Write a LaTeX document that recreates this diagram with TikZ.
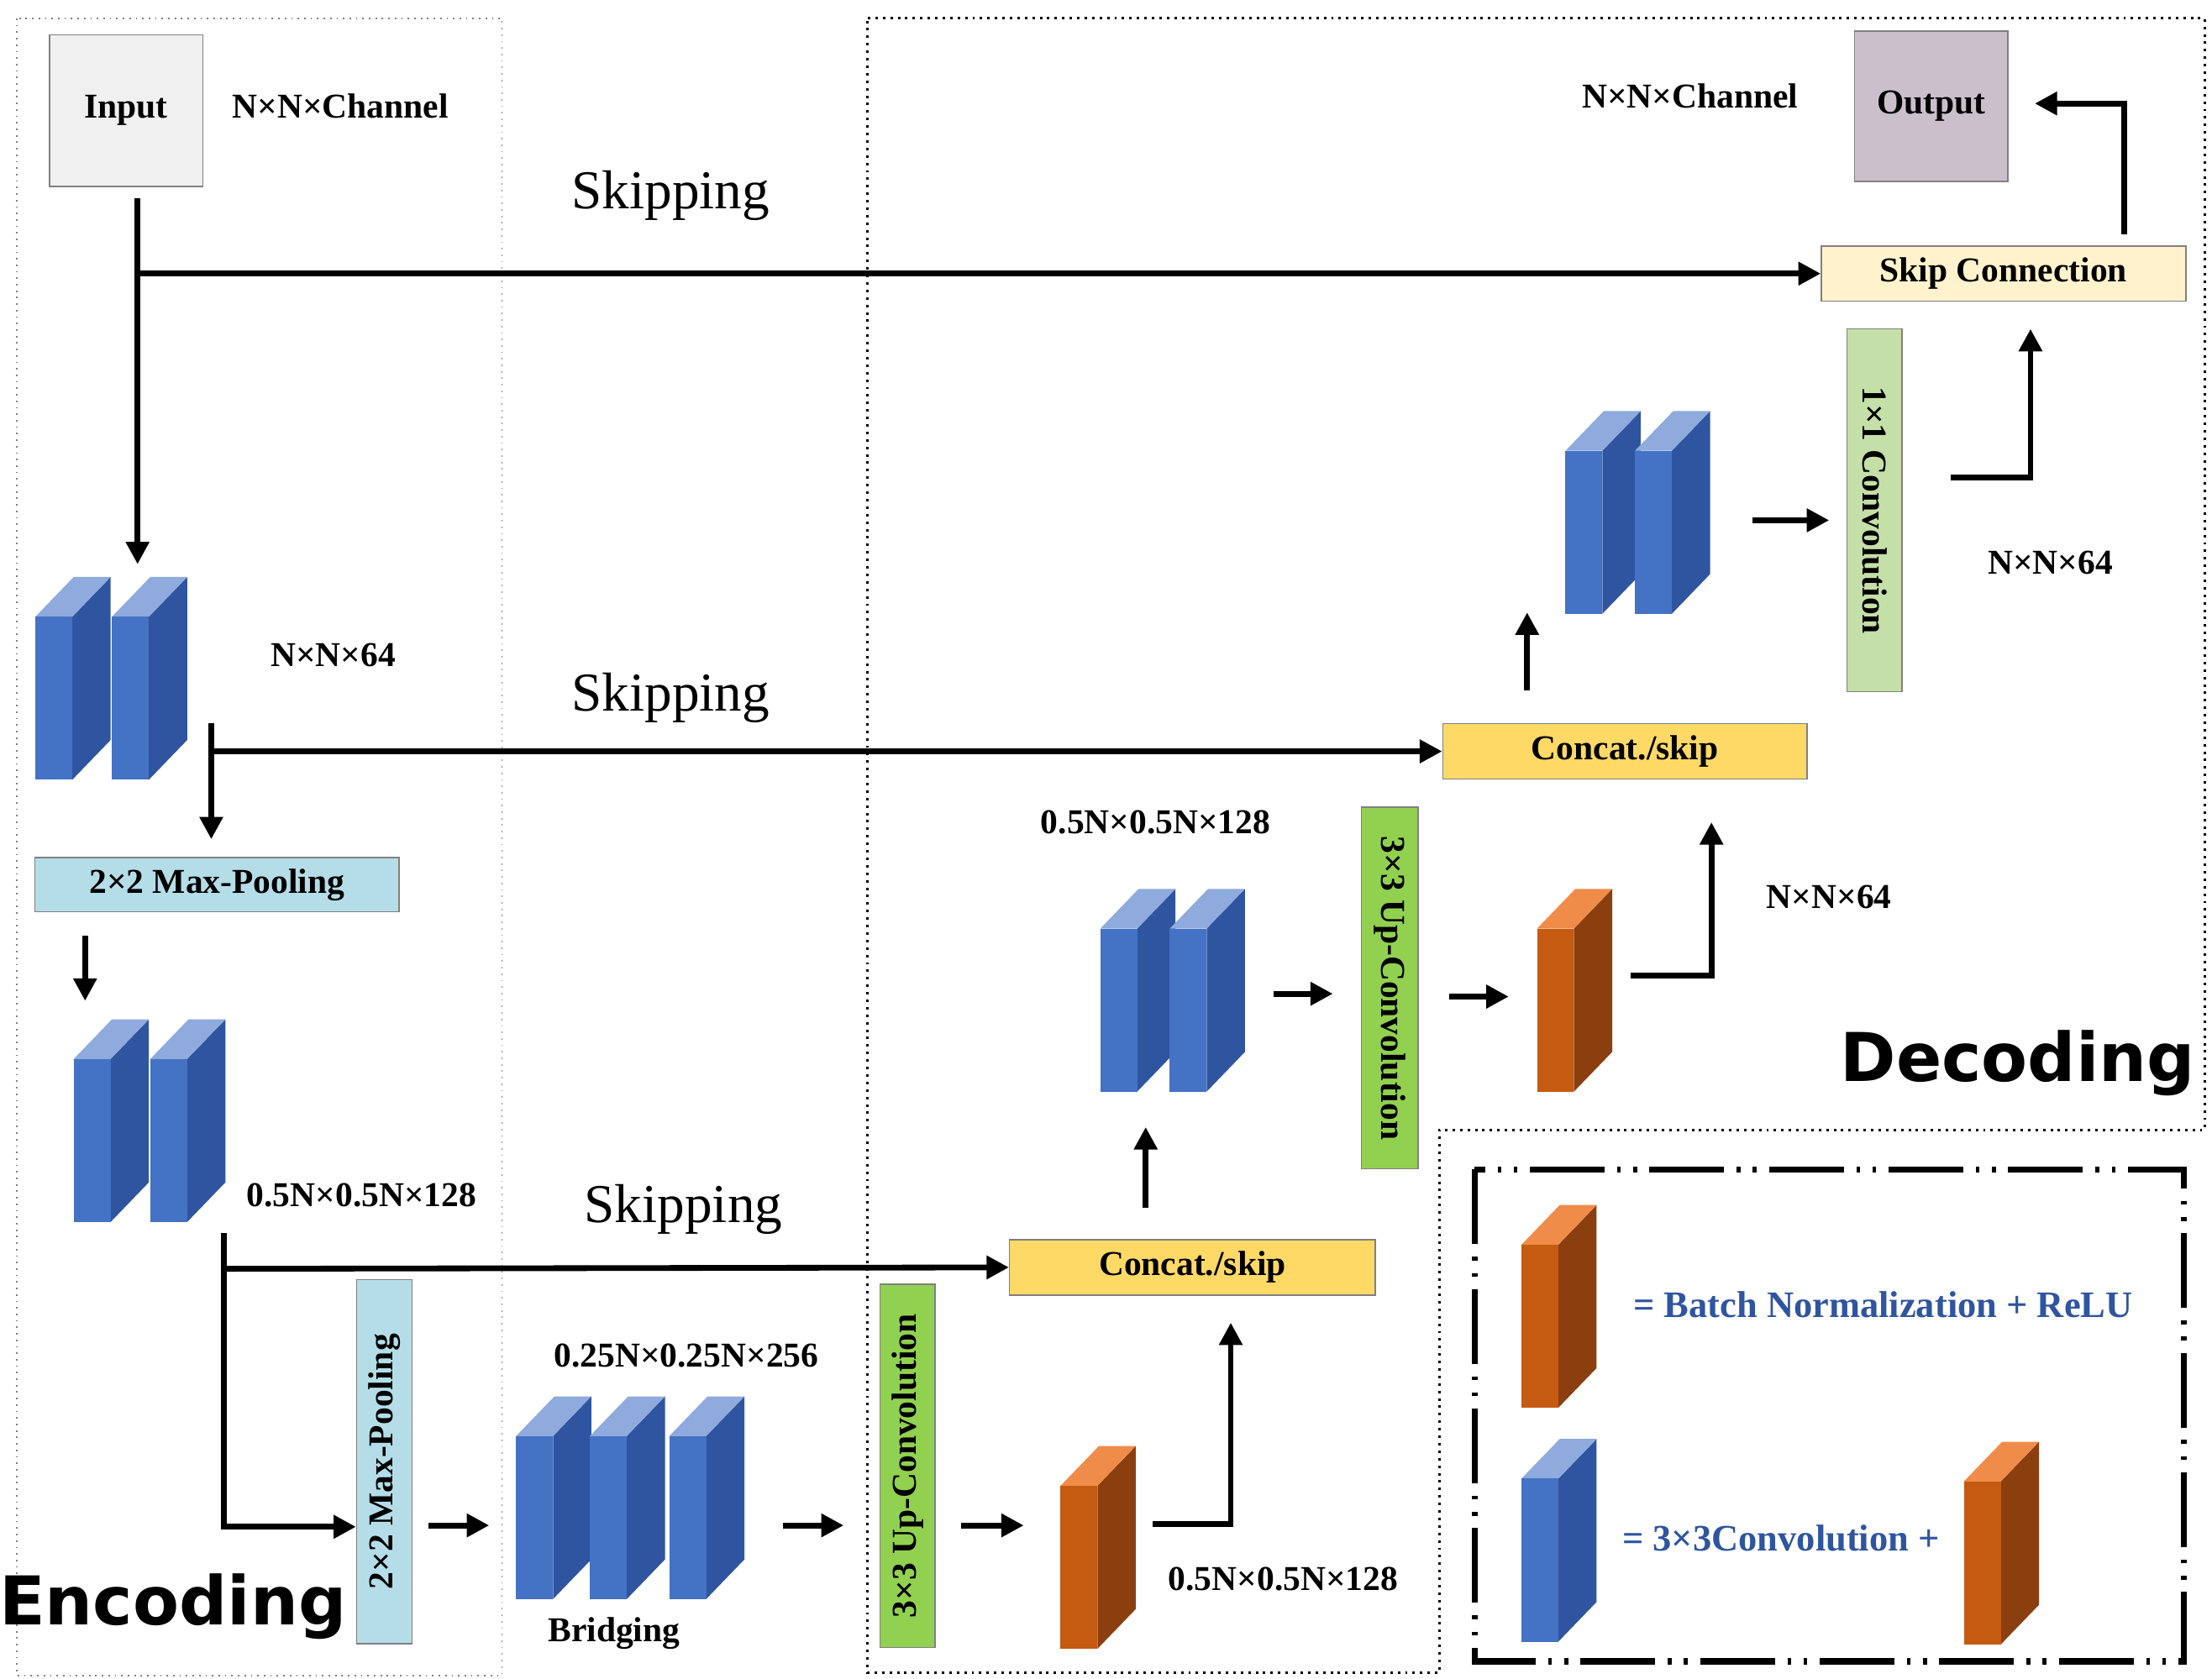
\documentclass[tikz,border=0pt]{standalone}
\usepackage{fontspec}
\setmainfont{Liberation Serif}
\newfontfamily\heavy{DejaVu Sans}
\usetikzlibrary{arrows.meta}
\definecolor{bF}{HTML}{4472C4}\definecolor{bS}{HTML}{2F55A0}\definecolor{bT}{HTML}{8FAADC}
\definecolor{oF}{HTML}{C55A11}\definecolor{oS}{HTML}{8B3E0E}\definecolor{oT}{HTML}{F08C4A}
\definecolor{lblue}{HTML}{B4DDE8}\definecolor{gr}{HTML}{92D050}\definecolor{lgr}{HTML}{C5DFA8}
\definecolor{yel}{HTML}{FFD966}\definecolor{lyel}{HTML}{FFF2CC}\definecolor{txtb}{HTML}{2F55A0}
\newcommand\myblk[4]{% x y front side top
 \fill[#3] (#1,#2) -- ++(27,-28) -- ++(0,115) -- ++(-27,28) -- cycle;
 \fill[#4] (#1,#2) -- ++(27,-28) -- ++(-26,0) -- ++(-27,28) -- cycle;
 \fill[#3!0] (#1,#2);
 \fill[#3] (#1,#2) rectangle ++(-1,0);
}
\newcommand\cube[3]{% x(front left) y(front top) type
 \ifx#3b\def\cf{bF}\def\cs{bS}\def\ct{bT}\else\def\cf{oF}\def\cs{oS}\def\ct{oT}\fi
 \fill[\cs] (#1+26,#2) -- ++(27,-28) -- ++(0,115) -- ++(-27,28) -- cycle;
 \fill[\ct] (#1,#2) -- ++(26,0) -- ++(27,-28) -- ++(-26,0) -- cycle;
 \fill[\cf] (#1,#2) rectangle ++(26,115);
}
\begin{document}
\begin{tikzpicture}[x=0.02cm,y=-0.02cm,
 lab/.style={font=\fontsize{14}{16}\selectfont\bfseries},
 skip/.style={font=\fontsize{22}{24}\selectfont},
 box/.style={draw=gray,line width=0.5pt,font=\fontsize{14}{16}\selectfont\bfseries,inner sep=0pt},
 arr/.style={line width=2.3pt,-{Triangle[length=9pt,width=9pt]}},
 big/.style={font=\heavy\fontsize{27}{30}\selectfont\bfseries}]
\useasboundingbox (0,0) rectangle (1560,1184);
\fill[white] (0,0) rectangle (1560,1184);
% frames
\draw[gray,dotted,line width=0.6pt] (12,13) rectangle (354,1182);
\draw[dotted,line width=1pt] (612,13) -- (1555,13) -- (1555,797) -- (1015,797) -- (1015,1180) -- (612,1180) -- cycle;
\draw[line width=2.5pt,dash pattern=on 30pt off 5pt on 1.5pt off 5pt on 1.5pt off 5pt] (1040,825) rectangle (1540,1172);
% boxes
\node[box,fill=black!6,minimum width=108*0.02cm,minimum height=107*0.02cm] (in) at (89,78) {Input};
\node[box,fill=violet!25!gray!40,minimum width=108*0.02cm,minimum height=106*0.02cm] (out) at (1362,75) {Output};
\node[lab] at (240,75) {N×N×Channel};
\node[lab] at (1192,68) {N×N×Channel};
\node[box,fill=lyel,minimum width=257*0.02cm,minimum height=39*0.02cm] (sc) at (1413,193) {Skip Connection};
\node[box,fill=lblue,minimum width=257*0.02cm,minimum height=38*0.02cm] (mp1) at (153,624) {2×2 Max-Pooling};
\node[box,fill=lblue,minimum width=39*0.02cm,minimum height=257*0.02cm] (mp2) at (271,1031) {};
\node[lab,rotate=90] at (271,1031) {2×2 Max-Pooling};
\node[box,fill=gr,minimum width=39*0.02cm,minimum height=256*0.02cm] (uc1) at (640,1034) {};
\node[lab,rotate=90] at (640,1034) {3×3 Up-Convolution};
\node[box,fill=gr,minimum width=40*0.02cm,minimum height=255*0.02cm] (uc2) at (980,697) {};
\node[lab,rotate=-90] at (980,697) {3×3 Up-Convolution};
\node[box,fill=lgr,minimum width=39*0.02cm,minimum height=256*0.02cm] (c11) at (1322,360) {};
\node[lab,rotate=-90] at (1322,360) {1×1 Convolution};
\node[box,fill=yel,minimum width=258*0.02cm,minimum height=39*0.02cm] (cs1) at (841,894) {Concat./skip};
\node[box,fill=yel,minimum width=257*0.02cm,minimum height=39*0.02cm] (cs2) at (1146,530) {Concat./skip};
% cubes
\cube{25}{435}{b}\cube{79}{435}{b}
\cube{52}{747}{b}\cube{106}{747}{b}
\cube{364}{1013}{b}\cube{416}{1013}{b}\cube{472}{1013}{b}
\cube{748}{1048}{o}
\cube{776}{655}{b}\cube{825}{655}{b}
\cube{1084}{655}{o}
\cube{1104}{318}{b}\cube{1153}{318}{b}
\cube{1073}{878}{o}\cube{1073}{1043}{b}\cube{1385}{1045}{o}
% labels
\node[lab] at (235,462) {N×N×64};
\node[lab] at (255,843) {0.5N×0.5N×128};
\node[lab] at (484,956) {0.25N×0.25N×256};
\node[lab] at (433,1152) {Bridging};
\node[lab] at (905,1114) {0.5N×0.5N×128};
\node[lab] at (815,580) {0.5N×0.5N×128};
\node[lab] at (1290,633) {N×N×64};
\node[lab] at (1446,397) {N×N×64};
\node[skip] at (473,138) {Skipping};
\node[skip] at (473,492) {Skipping};
\node[skip] at (482,853) {Skipping};
\node[big] at (122,1133) {Encoding};
\node[big] at (1423,750) {Decoding};
\node[lab,text=txtb,font=\fontsize{15}{17}\selectfont\bfseries] at (1328,920) {= Batch Normalization + ReLU};
\node[lab,text=txtb,font=\fontsize{15}{17}\selectfont\bfseries] at (1256,1085) {= 3×3Convolution +};
% arrows
\draw[arr] (97,140) -- (97,398);
\draw[arr] (97,193) -- (sc.west);
\draw[arr] (149,510) -- (149,592);
\draw[arr] (149,530) -- (cs2.west);
\draw[arr] (60,660) -- (60,706);
\draw[arr] (158,870) -- (158,1077) -- (mp2.west|-0,1077);
\draw[arr] (158,895) -- (cs1.west);
\draw[arr] (302,1076) -- (345,1076);
\draw[arr] (552,1076) -- (595,1076);
\draw[arr] (678,1076) -- (722,1076);
\draw[arr] (813,1075) -- (868,1075) -- (868,933);
\draw[arr] (808,852) -- (808,795);
\draw[arr] (898,701) -- (940,701);
\draw[arr] (1022,703) -- (1064,703);
\draw[arr] (1150,688) -- (1207,688) -- (1207,580);
\draw[arr] (1077,487) -- (1077,432);
\draw[arr] (1236,367) -- (1290,367);
\draw[arr] (1376,337) -- (1432,337) -- (1432,232);
\draw[arr] (1498,165) -- (1498,73) -- (1435,73);
\end{tikzpicture}
\end{document}
